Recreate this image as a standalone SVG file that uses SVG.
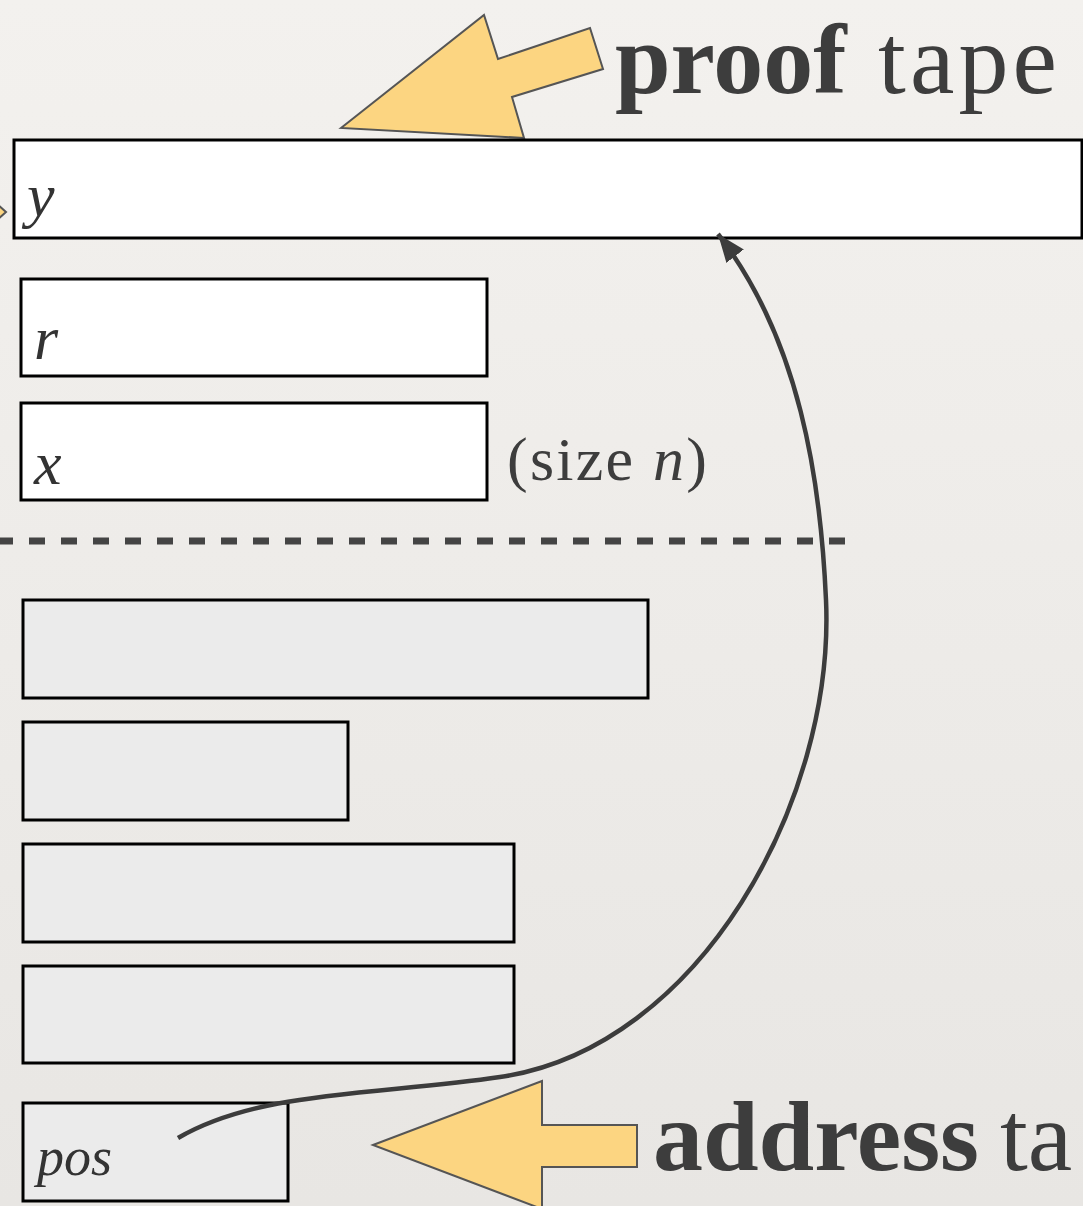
<svg xmlns="http://www.w3.org/2000/svg" width="1083" height="1206" viewBox="0 0 1083 1206">
  <defs>
    <linearGradient id="paper" x1="0" y1="0" x2="0" y2="1">
      <stop offset="0" stop-color="#f3f1ee"/>
      <stop offset="1" stop-color="#e8e6e3"/>
    </linearGradient>
    <marker id="head" markerUnits="userSpaceOnUse" markerWidth="32" markerHeight="32" viewBox="0 0 32 32" refX="28" refY="16" orient="auto">
      <path d="M0,5 L28,16 L0,27 Z" fill="#3c3c3c"/>
    </marker>
    <style>
      .tape { stroke: #000; stroke-width: 3; }
      .proof { fill: #ffffff; }
      .work { fill: #ebebeb; }
      .pointer { fill: #fcd581; stroke: #555; stroke-width: 2; stroke-linejoin: miter; }
      .lbl { font-family: "Liberation Serif", serif; font-style: italic; fill: #333; }
      .big { font-family: "Liberation Serif", serif; font-size: 100px; fill: #3d3d3d; }
      .link { fill: none; stroke: #3c3c3c; stroke-width: 4.5; }
    </style>
  </defs>

  <rect width="1083" height="1206" fill="url(#paper)"/>

  <!-- arrow tip entering from the left edge -->
  <polygon class="pointer" points="-30,180 6,212 -30,244"/>

  <!-- proof tape pointer and title -->
  <g id="proof-label">
    <polygon class="pointer" points="341,128 484,15 498,59 590,28 603,69 512,97 524,138"/>
    <text class="big" y="93"><tspan x="615" font-weight="bold">proof</tspan><tspan x="878" textLength="179">tape</tspan></text>
  </g>

  <!-- input tapes -->
  <g id="tape-y">
    <rect class="tape proof" x="14" y="140" width="1068" height="98"/>
    <text class="lbl" x="27" y="216" font-size="62">y</text>
  </g>
  <g id="tape-r">
    <rect class="tape proof" x="21" y="279" width="466" height="97"/>
    <text class="lbl" x="34" y="359" font-size="62">r</text>
  </g>
  <g id="tape-x">
    <rect class="tape proof" x="21" y="403" width="466" height="97"/>
    <text class="lbl" x="34" y="484" font-size="62">x</text>
    <text x="507" y="480" font-family="Liberation Serif, serif" font-size="62" fill="#3d3d3d" textLength="200">(size <tspan font-style="italic">n</tspan>)</text>
  </g>

  <!-- separator between input and work tapes -->
  <line x1="-3" y1="541" x2="845" y2="541" stroke="#444" stroke-width="7" stroke-dasharray="16 16"/>

  <!-- work tapes -->
  <g id="work-1"><rect class="tape work" x="23" y="600" width="625" height="98"/></g>
  <g id="work-2"><rect class="tape work" x="23" y="722" width="325" height="98"/></g>
  <g id="work-3"><rect class="tape work" x="23" y="844" width="491" height="98"/></g>
  <g id="work-4"><rect class="tape work" x="23" y="966" width="491" height="97"/></g>
  <g id="tape-pos">
    <rect class="tape work" x="23" y="1103" width="265" height="98"/>
    <text class="lbl" x="37" y="1175" font-size="54" fill="#555">pos</text>
  </g>

  <!-- address tape pointer and title -->
  <g id="address-label">
    <polygon class="pointer" points="373,1145 542,1081 542,1125 637,1125 637,1167 542,1167 542,1209"/>
    <text class="big" y="1170"><tspan x="653" font-weight="bold">address</tspan><tspan x="1000">ta</tspan></text>
  </g>

  <!-- pos addresses a cell of the proof tape -->
  <g id="connectors">
    <path class="link" marker-end="url(#head)" d="M178,1138 C260,1090 380,1095 500,1077 C700,1048 835,800 826,600 C820.6,480 800,340 718,234"/>
  </g>
</svg>
